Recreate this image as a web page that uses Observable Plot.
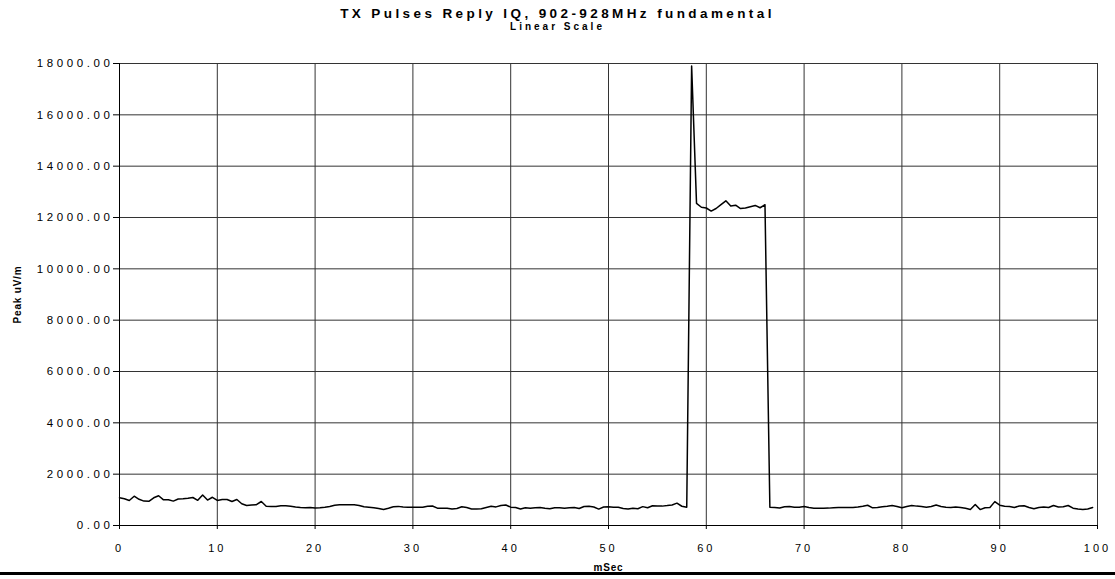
<!DOCTYPE html>
<html>
<head>
<meta charset="utf-8">
<script src="https://cdn.jsdelivr.net/npm/d3@7"></script>
<script src="https://cdn.jsdelivr.net/npm/@observablehq/plot@0.6"></script>
<style>
  body { margin: 0; background: #fff; font-family: "Liberation Sans", Arial, sans-serif; }
  #wrap { position: relative; width: 1115px; height: 579px; overflow: hidden; background: #fff; }
  #head { position: relative; height: 36px; }
  #title { position: absolute; left: 0; width: 1115px; top: 6px; text-align: center; font-weight: bold; font-size: 13.5px; letter-spacing: 3.4px; color: #000; }
  #sub { position: absolute; left: 0; width: 1115px; top: 21px; text-align: center; font-weight: bold; font-size: 10px; letter-spacing: 3px; color: #000; }
  #foot { height: 3px; background: #000; }
  #chart svg g[aria-label="y-axis tick label"] text { letter-spacing: 3.6px; }
  #chart svg g[aria-label="x-axis tick label"] text { letter-spacing: 3px; }
  #chart svg g[aria-label="text"] text { letter-spacing: 0.8px; }
</style>
</head>
<body>
<div id="wrap">
  <div id="head">
    <div id="title">TX Pulses Reply IQ, 902-928MHz fundamental</div>
    <div id="sub">Linear Scale</div>
  </div>
  <div id="chart"></div>
  <div id="foot"></div>
</div>
<script>
// Sample grid (ms)
const startMs = 0;
const stepMs = 0.5;

// Peak field strength (uV/m), one value per 0.5 ms sample
const peakValues = [
  1080,1040,975,1140,1020,950,940,1080,1160,1000,
  1000,950,1030,1040,1060,1090,980,1190,990,1100,
  975,1015,1015,935,1015,845,780,800,810,935,
  750,740,740,770,770,750,720,700,690,700,
  680,690,710,740,790,805,805,805,805,780,
  730,715,690,660,625,675,730,745,725,713,
  713,713,713,750,760,675,675,675,640,660,
  730,700,640,640,650,700,750,725,780,800,
  715,700,640,690,675,690,700,670,655,690,
  695,675,690,705,660,740,750,720,640,720,
  730,713,713,660,640,675,655,735,690,770,
  760,755,775,800,870,750,713,17900,12550,12400,
  12370,12250,12350,12500,12650,12450,12480,12350,12370,12420,
  12470,12380,12500,713,700,680,730,740,715,713,
  740,700,675,675,675,677,690,700,700,700,
  700,720,750,790,690,700,730,750,775,740,
  690,740,775,755,740,715,740,800,740,710,
  700,720,700,670,625,820,620,690,700,930,
  790,750,740,700,760,770,700,650,700,720,
  700,780,720,730,780,675,640,625,640,700
];

const xTicks = [0,10,20,30,40,50,60,70,80,90,100];
const yTicks = [0,2000,4000,6000,8000,10000,12000,14000,16000,18000];
const xLabel = "mSec";
const yLabel = "Peak uV/m";

const data = peakValues.map((v, i) => ({t: startMs + i * stepMs, v}));

const chart = Plot.plot({
  width: 1115,
  height: 536,
  marginTop: 27,
  marginBottom: 47,
  marginLeft: 119,
  marginRight: 18,
  style: {fontFamily: '"Liberation Sans", Arial, sans-serif', fontSize: "11px", color: "#000", background: "#fff", overflow: "visible"},
  x: {domain: [0, 100], label: null},
  y: {domain: [0, 18000], label: null},
  marks: [
    Plot.gridX(xTicks, {stroke: "#333", strokeOpacity: 1, strokeWidth: 1}),
    Plot.gridY(yTicks, {stroke: "#333", strokeOpacity: 1, strokeWidth: 1}),
    Plot.axisX(xTicks, {tickSize: 4, tickPadding: 15, fontSize: 11, label: null}),
    Plot.axisY(yTicks, {tickSize: 6, tickPadding: 0, tickFormat: d3.format(".2f"), fontSize: 11.5, label: null}),
    Plot.ruleX([0], {stroke: "#000"}),
    Plot.ruleY([0], {stroke: "#000"}),
    Plot.line(data, {x: "t", y: "v", stroke: "#000", strokeWidth: 1.5}),
    Plot.text([xLabel], {text: d => d, frameAnchor: "bottom", dy: 45, lineAnchor: "bottom", fontWeight: "bold", fontSize: 10}),
    Plot.text([yLabel], {text: d => d, frameAnchor: "left", dx: -102, rotate: -90, textAnchor: "middle", lineAnchor: "middle", fontWeight: "bold", fontSize: 10})
  ]
});
document.getElementById("chart").appendChild(chart);
</script>
</body>
</html>
